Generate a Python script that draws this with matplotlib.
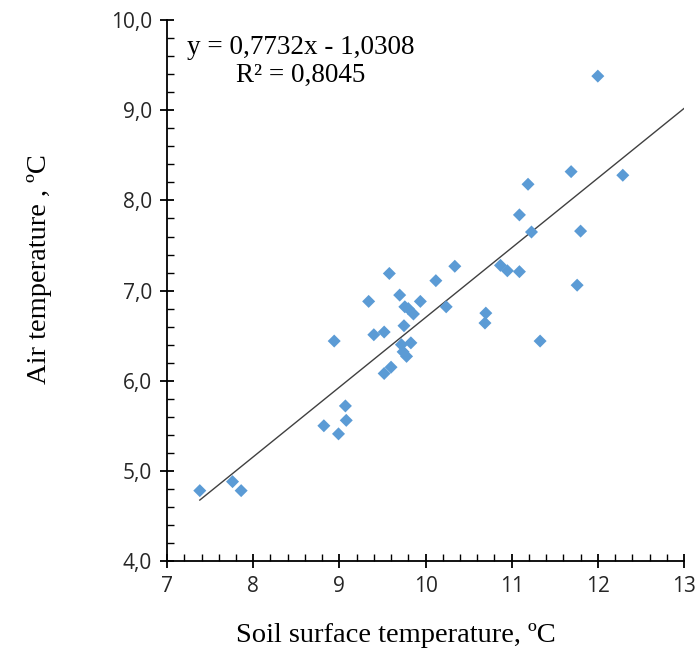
import matplotlib.pyplot as plt
from matplotlib.ticker import MultipleLocator, FuncFormatter

# soil surface temperature (x) and air temperature (y)
soil_temp = [7.38, 7.76, 7.86, 8.82, 8.99, 9.07, 9.08, 8.94, 9.34, 9.40,
             9.52, 9.58, 9.52, 9.60, 9.70, 9.76, 9.80, 9.86, 9.75, 9.72,
             9.83, 9.74, 9.78, 9.94, 10.12, 10.24, 10.34, 10.70, 10.69, 10.87,
             10.95, 11.09, 11.09, 11.19, 11.23, 11.33, 11.69, 11.80, 11.76, 12.00,
             12.29]
air_temp = [4.78, 4.88, 4.78, 5.50, 5.41, 5.72, 5.56, 6.44, 6.88, 6.51,
            6.54, 7.19, 6.08, 6.15, 6.95, 6.82, 6.80, 6.74, 6.61, 6.40,
            6.42, 6.32, 6.27, 6.88, 7.11, 6.82, 7.27, 6.75, 6.64, 7.28,
            7.22, 7.21, 7.84, 8.18, 7.65, 6.44, 8.32, 7.66, 7.06, 9.38,
            8.28]

slope, intercept = 0.7732, -1.0308
r2 = 0.8045
x_range = (7, 13)
y_range = (4, 10)

fig = plt.figure(figsize=(6.99, 6.53), dpi=100)
ax = fig.add_axes([0.239, 0.141, 0.7395, 0.828])

ax.scatter(soil_temp, air_temp, marker="D", s=44, color="#5B9BD5",
           edgecolors="none", zorder=3)

# linear trendline, extended to the right edge
x_fit = [min(soil_temp), x_range[1]]
y_fit = [slope * v + intercept for v in x_fit]
ax.plot(x_fit, y_fit, color="#404040", lw=1.0, zorder=2)

ax.set_xlim(*x_range)
ax.set_ylim(*y_range)
ax.xaxis.set_major_locator(MultipleLocator(1))
ax.xaxis.set_minor_locator(MultipleLocator(0.2))
ax.yaxis.set_major_locator(MultipleLocator(1))
ax.yaxis.set_minor_locator(MultipleLocator(0.2))
ax.yaxis.set_major_formatter(FuncFormatter(lambda v, p: f"{v:.1f}".replace(".", ",")))

for side in ["top", "right"]:
    ax.spines[side].set_visible(False)
for side in ["left", "bottom"]:
    ax.spines[side].set_linewidth(1.3)

ax.tick_params(which="major", direction="inout", length=10, width=1.3,
               labelsize=15, pad=6)
ax.tick_params(which="minor", direction="in", length=5, width=1.0)
for lbl in ax.get_xticklabels() + ax.get_yticklabels():
    lbl.set_family("Open Sans")
    lbl.set_color("#262626")

serif = "Liberation Serif"
ax.set_xlabel("Soil surface temperature, ºC", family=serif, fontsize=20.5)
ax.set_ylabel("Air temperature , ºC", family=serif, fontsize=20.5)
ax.xaxis.set_label_coords(0.443, -0.114)
ax.yaxis.set_label_coords(-0.222, 0.54)

ax.text(0.259, 0.924,
        f"y = {slope:.4f}x - {abs(intercept):.4f}\nR² = {r2:.4f}".replace(".", ","),
        transform=ax.transAxes, ha="center", va="center", family=serif,
        fontsize=19.5, linespacing=1.15)

fig.savefig("out.png", dpi=100)
